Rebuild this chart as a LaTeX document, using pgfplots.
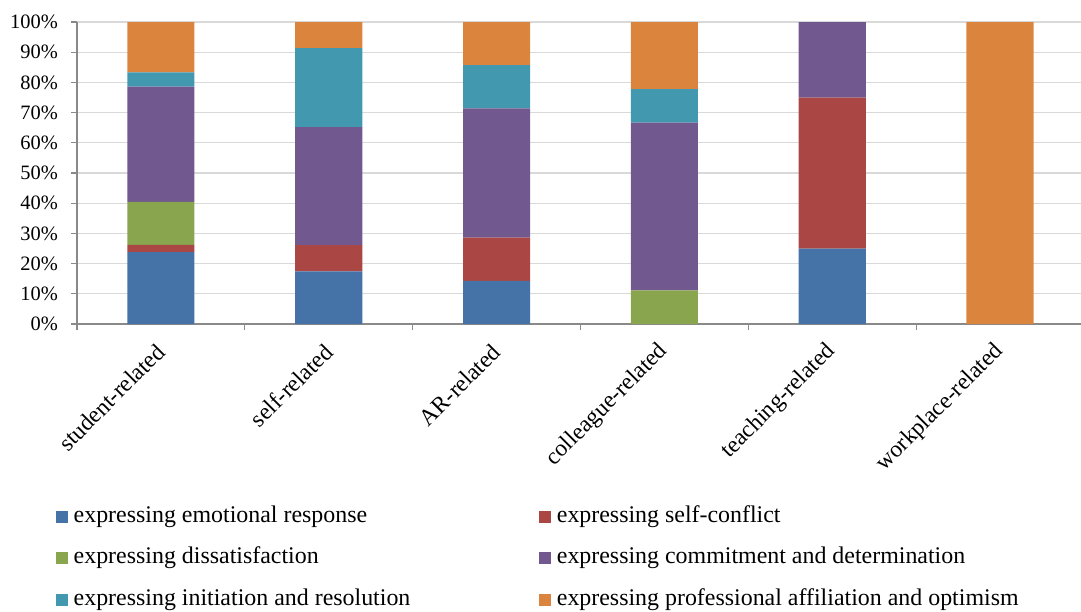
\documentclass[border=0pt]{standalone}
\usepackage{fontspec}
\setmainfont{Liberation Serif}
\usepackage{pgfplots}
\pgfplotsset{compat=1.18}

\definecolor{cEmo}{HTML}{4572A7}
\definecolor{cSelf}{HTML}{AA4643}
\definecolor{cDis}{HTML}{89A54E}
\definecolor{cCom}{HTML}{71588F}
\definecolor{cIni}{HTML}{4198AF}
\definecolor{cPro}{HTML}{DB843D}
\definecolor{gridgray}{HTML}{D9D9D9}
\definecolor{axisgray}{HTML}{898989}

\begin{document}
\begin{tikzpicture}
\useasboundingbox (-77bp,-288bp) rectangle (1004bp,324bp);
\begin{axis}[
  scale only axis,
  width=1007bp, height=302bp,
  ybar stacked, bar width=0.4,
  xmin=-0.5, xmax=5.5, ymin=0, ymax=100,
  axis x line*=bottom, axis y line*=left,
  axis line style={axisgray, line width=1.2bp, -},
  xtick={0,...,5},
  xticklabels={student-related,self-related,AR-related,colleague-related,teaching-related,workplace-related},
  minor xtick={-0.5,0.5,...,5.5},
  major x tick style={draw=none},
  minor x tick style={axisgray, line width=1.2bp},
  y tick style={axisgray, line width=1.2bp},
  tick align=outside,
  major tick length=6bp, minor tick length=6bp,
  ytick={0,10,...,100},
  ymajorgrids,
  grid style={gridgray, line width=1.2bp},
  /pgf/number format/assume math mode=true,
  yticklabel={\pgfmathprintnumber{\tick}\%},
  yticklabel style={anchor=east, inner sep=0pt, font=\fontsize{20.5}{24}\selectfont},
  yticklabel shift=13bp,
  xticklabel style={rotate=45, anchor=east, inner sep=0pt, font=\fontsize{23.5}{28}\selectfont},
  xticklabel shift=18bp,
  legend columns=2,
  legend cell align=left,
  legend image code/.code={\fill[#1, draw=none] (0bp,-6bp) rectangle (12bp,6bp);},
  legend style={
    at={(axis description cs:-0.02085,-0.5993)}, anchor=north west,
    draw=none, fill=none, inner sep=0pt,
    font=\fontsize{24}{28}\selectfont,
    nodes={inner sep=0pt, text height=17bp, text depth=6bp},
    row sep=18.5bp,
    /tikz/column 1/.style={column sep=5.5bp},
    /tikz/column 2/.style={column sep=129bp},
    /tikz/column 3/.style={column sep=5.5bp},
  },
]
% expressing emotional response
\addplot[fill=cEmo, draw=none] coordinates {(0,23.81) (1,17.39) (2,14.29) (3,0) (4,25) (5,0)};
% expressing self-conflict
\addplot[fill=cSelf, draw=none] coordinates {(0,2.38) (1,8.70) (2,14.29) (3,0) (4,50) (5,0)};
% expressing dissatisfaction
\addplot[fill=cDis, draw=none] coordinates {(0,14.29) (1,0) (2,0) (3,11.11) (4,0) (5,0)};
% expressing commitment and determination
\addplot[fill=cCom, draw=none] coordinates {(0,38.10) (1,39.13) (2,42.86) (3,55.56) (4,25) (5,0)};
% expressing initiation and resolution
\addplot[fill=cIni, draw=none] coordinates {(0,4.76) (1,26.09) (2,14.29) (3,11.11) (4,0) (5,0)};
% expressing professional affiliation and optimism
\addplot[fill=cPro, draw=none] coordinates {(0,16.66) (1,8.69) (2,14.27) (3,22.22) (4,0) (5,100)};
\legend{expressing emotional response, expressing self-conflict,
        expressing dissatisfaction, expressing commitment and determination,
        expressing initiation and resolution, expressing professional affiliation and optimism}
\end{axis}
\end{tikzpicture}
\end{document}
